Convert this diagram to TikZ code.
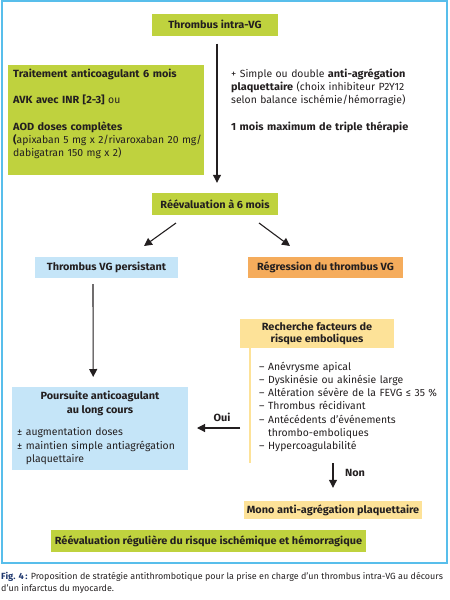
\documentclass[tikz,border=0pt]{standalone}
\usepackage{fontspec}
\setmainfont{Fira Sans}[BoldFeatures={FakeStretch=1.05}]
\usetikzlibrary{arrows.meta}
\definecolor{cgreen}{RGB}{191,210,62}
\definecolor{cblue}{RGB}{197,229,248}
\definecolor{corange}{RGB}{245,172,92}
\definecolor{cyellow}{RGB}{253,226,152}
\definecolor{cframe}{RGB}{88,190,235}
\definecolor{ctext}{RGB}{35,31,32}
\definecolor{cfig}{RGB}{30,55,110}
\begin{document}
\begin{tikzpicture}[x=1pt,y=-1pt,
  every node/.style={text=ctext,font=\fontsize{10.4}{13.3}\selectfont},
  boxn/.style={inner sep=0pt,minimum width=#1},
  bf/.style={font=\fontsize{10.4}{13.3}\selectfont\bfseries},
  arr/.style={-{Triangle[length=8pt,width=8pt]},line width=1.1pt,draw=ctext},
  txt/.style={inner sep=0pt,align=left,anchor=north west}]
\useasboundingbox (0,0) rectangle (450,600);
\draw[cframe,line width=2pt] (2,1) rectangle (447,563);
% top
\node[boxn=126,minimum height=22,fill=cgreen,bf] (top) at (215,24.5) {Thrombus intra-VG};
% green treatment
\node[boxn=196,minimum height=110,fill=cgreen,anchor=north west] (treat) at (8,65) {};
\node[txt,text width=193] (treattext) at (13,68.5) {\textbf{Traitement anticoagulant 6 mois}\\[13.3pt]
\textbf{AVK avec INR [2-3]} ou\\[13.3pt]
\textbf{AOD doses complètes}\\
\textbf{(}apixaban 5 mg x 2/rivaroxaban 20 mg/\\
dabigatran 150 mg x 2)};
% right text
\node[txt,text width=215] (antiag) at (231,68.5) {+ Simple ou double \textbf{anti-agrégation}\\
\textbf{plaquettaire} (choix inhibiteur P2Y12\\
selon balance ischémie/hémorragie)\\[13.3pt]
\textbf{1 mois maximum de triple thérapie}};
% reeval
\node[boxn=126,minimum height=22,fill=cgreen,bf] (reeval) at (215,204) {Réévaluation à 6 mois};
\draw[arr] ([xshift=2pt,yshift=-8pt]top.south) -- ([xshift=2pt,yshift=10pt]reeval.north);
% two branches
\node[boxn=143,minimum height=21,fill=cblue,bf] (persist) at (106.5,267.5) {Thrombus VG persistant};
\node[boxn=155,minimum height=21,fill=corange,bf] (regress) at (325.5,267.5) {Régression du thrombus VG};
\coordinate (l1) at (176,223); \coordinate (l2) at (144,246);
\coordinate (r1) at (259,223); \coordinate (r2) at (290,246);
\draw[arr] (l1) -- (l2);
\draw[arr] (r1) -- (r2);
% recherche
\node[boxn=154,minimum height=29,fill=cyellow,align=center,font=\fontsize{10.4}{12.5}\selectfont\bfseries] (rech) at (317,333.5) {Recherche facteurs de\\risque emboliques};
\draw[cyellow,line width=1.5pt] (250,348) -- (250,463);
\node[txt,text width=190] (list) at (259,361.5) {– Anévrysme apical\\
– Dyskinésie ou akinésie large\\
– Altération sévère de la FEVG ≤ 35 \%\\
– Thrombus récidivant\\
– Antécédents d’événements\\
\hphantom{– }thrombo-emboliques\\
– Hypercoagulabilité};
% poursuite
\node[boxn=176,minimum height=83,fill=cblue,anchor=north west] (pours) at (12,387) {};
\node[inner sep=0pt,align=center,bf] (pourstitle) at (100,403.5) {Poursuite anticoagulant\\au long cours};
\node[txt,text width=175] (poursl) at (17,427.5) {± augmentation doses\\
± maintien simple antiagrégation\\
\hphantom{± }plaquettaire};
\coordinate (p1) at (93,284);
\draw[arr] (p1) -- ([xshift=-7pt,yshift=10pt]pours.north);
% oui
\coordinate (o1) at (240,428); \coordinate (o2) at (197,428);
\draw[arr] (o1) -- (o2);
\node[bf,inner sep=0pt] (oui) at (222,417) {Oui};
% mono
\node[boxn=178,minimum height=18,fill=cyellow,bf] (mono) at (333,510) {Mono anti-agrégation plaquettaire};
\coordinate (n1) at (333,463);
\draw[arr] (n1) -- ([yshift=13pt]mono.north);
\node[bf,inner sep=0pt] (non) at (355,473) {Non};
% final
\node[boxn=315,minimum height=22,fill=cgreen,bf] (final) at (208.5,541) {Réévaluation régulière du risque ischémique et hémorragique};
% caption
\node[txt,font=\fontsize{8.95}{12.5}\selectfont] (caption) at (1,572) {\textcolor{cfig}{\textbf{Fig. 4\,:}} Proposition de stratégie antithrombotique pour la prise en charge d’un thrombus intra-VG au décours\\d’un infarctus du myocarde.};
\end{tikzpicture}
\end{document}
